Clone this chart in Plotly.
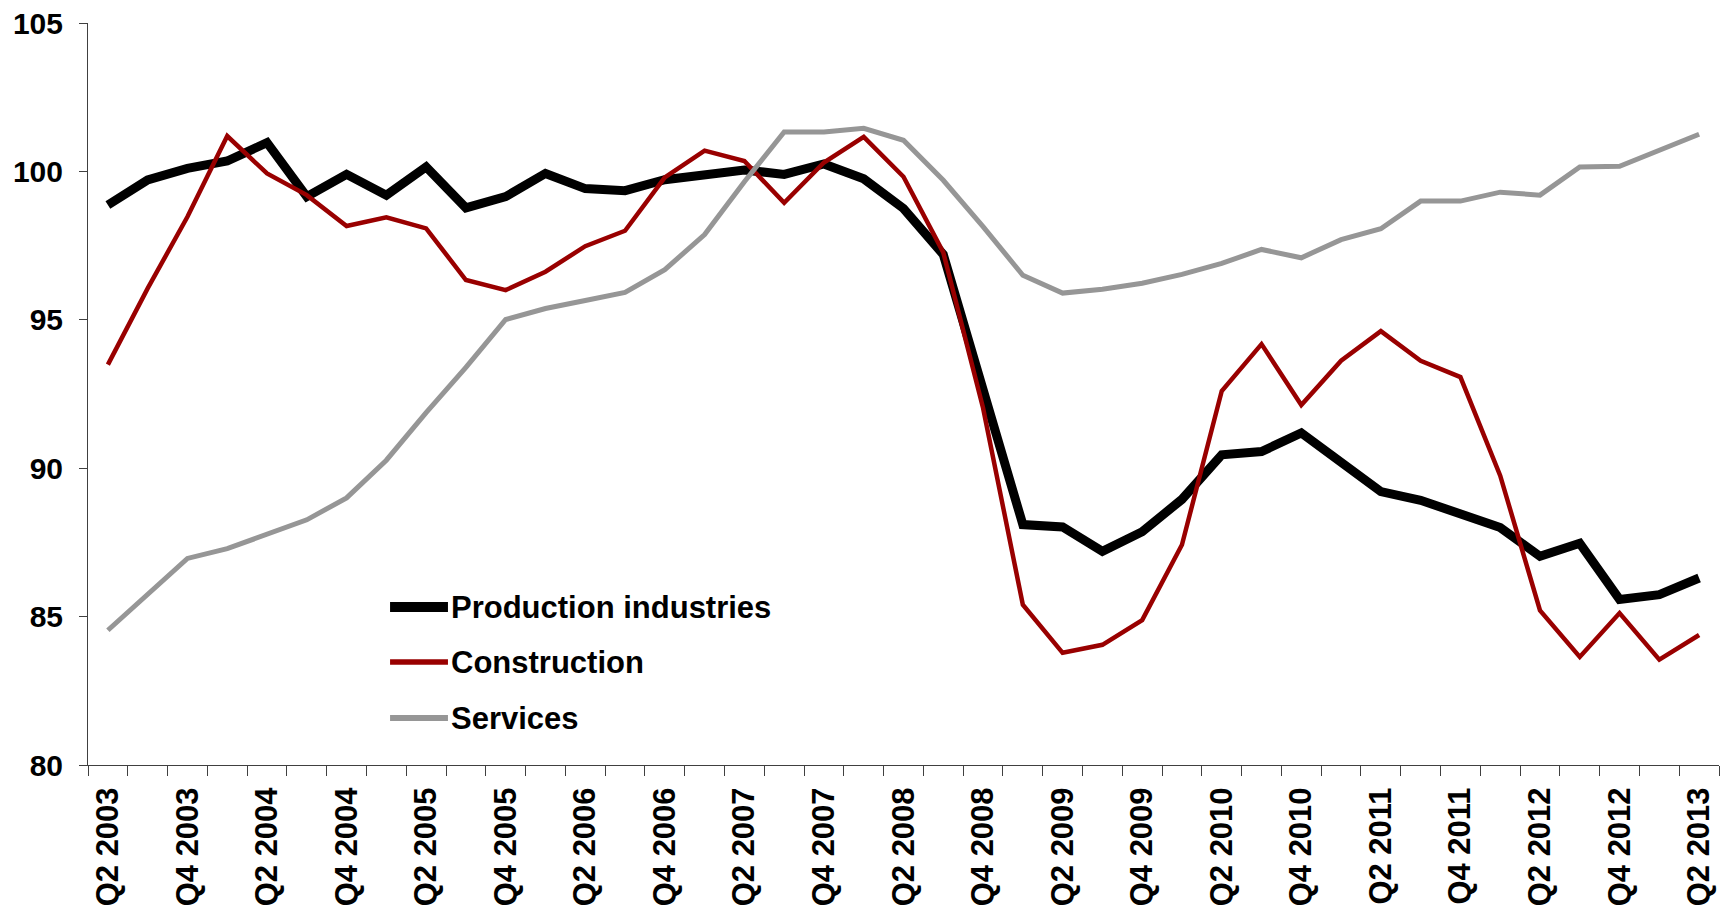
import plotly.graph_objects as go

# quarterly index values, Q2 2003 .. Q2 2013
quarters = [f"Q{q} {y}" for y in range(2003, 2014) for q in range(1, 5)][1:42]

production = [98.87, 99.71, 100.1, 100.35, 100.97, 99.15, 99.9, 99.2, 100.15, 98.77,
              99.15, 99.93, 99.42, 99.35, 99.72, 99.9, 100.05, 99.9, 100.25, 99.75,
              98.75, 97.2, 92.7, 88.1, 88.02, 87.2, 87.86, 88.95, 90.45, 90.56,
              91.19, 90.19, 89.21, 88.92, 88.48, 88.0, 87.03, 87.47, 85.58, 85.74,
              86.3]
construction = [93.49, 96.06, 98.47, 101.19, 99.93, 99.2, 98.16, 98.45, 98.08, 96.34,
                96.0, 96.62, 97.48, 98.0, 99.8, 100.7, 100.35, 98.94, 100.3, 101.16,
                99.82, 97.27, 92.03, 85.4, 83.78, 84.05, 84.88, 87.42, 92.6, 94.18,
                92.13, 93.62, 94.62, 93.62, 93.07, 89.75, 85.21, 83.64, 85.12, 83.55,
                84.38]
services = [84.54, 85.73, 86.96, 87.29, 87.78, 88.26, 89.0, 90.27, 91.87, 93.4,
            95.01, 95.38, 95.65, 95.92, 96.69, 97.87, 99.65, 101.33, 101.33, 101.45,
            101.05, 99.7, 98.14, 96.5, 95.9, 96.03, 96.23, 96.53, 96.9, 97.37,
            97.09, 97.7, 98.07, 99.0, 99.0, 99.3, 99.2, 100.15, 100.17, 100.7,
            101.25]

# only Q2 / Q4 labels are shown
tick_labels = [q if i % 2 == 0 else "" for i, q in enumerate(quarters)]

series = [
    ("Production industries", production, "#000000", 9),
    ("Construction", construction, "#990000", 4.5),
    ("Services", services, "#969696", 5),
]

font_family = "Arial, Liberation Sans, sans-serif"

fig = go.Figure()
for name, values, color, width in series:
    fig.add_trace(go.Scatter(
        x=quarters,
        y=values,
        mode="lines",
        name=name,
        line=dict(color=color, width=width),
        showlegend=False,
    ))

# legend drawn by hand so the sample lines are as long as in the original
legend_y = [0.2129, 0.1388, 0.0633]
for (name, values, color, width), ly in zip(series, legend_y):
    fig.add_shape(
        type="line",
        xref="paper", yref="paper",
        x0=0.1852, x1=0.2207, y0=ly, y1=ly,
        line=dict(color=color, width=width + 1),
    )
    fig.add_annotation(
        xref="paper", yref="paper",
        x=0.2215, y=ly,
        xanchor="left", yanchor="middle",
        text=name,
        showarrow=False,
        font=dict(size=31, family=font_family, color="black", weight="bold"),
    )

# the page body adds 8px around the plot, so the figure is 8px smaller
fig.update_layout(
    width=1720,
    height=900,
    margin=dict(l=80, r=9, t=15, b=143),
    paper_bgcolor="white",
    plot_bgcolor="white",
    font=dict(family=font_family, color="black"),
    showlegend=False,
)

fig.update_xaxes(
    type="category",
    tickmode="array",
    tickvals=quarters,
    ticktext=tick_labels,
    tickson="boundaries",
    ticks="outside",
    ticklen=10,
    tickcolor="#404040",
    tickangle=-90,
    ticklabelstandoff=9,
    ticklabeloverflow="allow",
    tickfont=dict(size=31, family=font_family, weight="bold"),
    showline=True,
    linecolor="#404040",
    linewidth=1,
    showgrid=False,
    automargin=False,
    range=[-0.5, 40.5],
)
fig.update_yaxes(
    range=[80, 105],
    tickmode="linear",
    tick0=80,
    dtick=5,
    ticks="outside",
    ticklen=8,
    tickcolor="#404040",
    ticklabelstandoff=10,
    ticklabeloverflow="allow",
    tickfont=dict(size=30, family=font_family, weight="bold"),
    showline=True,
    linecolor="#404040",
    linewidth=1,
    showgrid=False,
    zeroline=False,
    automargin=False,
)

fig.write_html("out.html")
